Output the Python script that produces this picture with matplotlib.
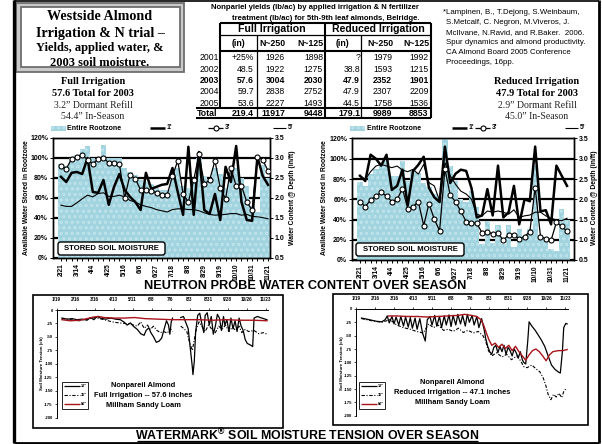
import numpy as np
import matplotlib
matplotlib.use('Agg')
import matplotlib.pyplot as plt
from matplotlib.patches import Rectangle, FancyBboxPatch

plt.rcParams['font.family'] = ['Liberation Sans', 'DejaVu Sans']
plt.rcParams['mathtext.fontset'] = 'custom'
plt.rcParams['mathtext.rm'] = 'Liberation Sans:bold'
plt.rcParams['mathtext.default'] = 'rm'
plt.rcParams['hatch.linewidth'] = 0.5
SANS = ['Liberation Sans', 'DejaVu Sans']
SERIF = ['Liberation Serif', 'DejaVu Serif']

# ---------------- yield table ----------------
table_years = ['2001', '2002', '2003', '2004', '2005']
full_in = ['+25%', '48.5', '57.6', '59.7', '53.6']
full_n250 = ['1926', '1922', '3004', '2838', '2227']
full_n125 = ['1898', '1275', '2030', '2752', '1493']
red_in = ['?', '38.8', '47.9', '47.9', '44.5']
red_n250 = ['1979', '1593', '2352', '2307', '1758']
red_n125 = ['1992', '1215', '1901', '2209', '1536']
table_totals = ['219.4', '11917', '9448', '179.1', '9989', '8853']

# ---------------- neutron probe (weekly, days after 2/21) ----------------
probe_days = [0, 7, 14, 21, 28, 35, 42, 49, 56, 63, 70, 77, 84, 91, 98, 105, 112, 119, 126, 133,
              140, 147, 154, 161, 168, 175, 182, 189, 196, 203, 210, 217, 224, 231, 238, 245, 252, 259, 266, 273]
probe_tick_days = [0, 21, 42, 63, 84, 105, 126, 147, 168, 189, 210, 231, 252, 273]
probe_tick_labels = ['2/21', '3/14', '4/4', '4/25', '5/16', '6/6', '6/27', '7/18', '8/8', '8/29',
                     '9/19', '10/10', '10/31', '11/21']
pct_ticks = [0, 20, 40, 60, 80, 100, 120]
pct_labels = ['0%', '20%', '40%', '60%', '80%', '100%', '120%']
inft_ticks = [0.5, 1.0, 1.5, 2.0, 2.5, 3.0, 3.5]
inft_labels = ['0.5', '1.0', '1.5', '2.0', '2.5', '3.0', '3.5']

# Full irrigation: % of available water in rootzone, water content (in/ft) at 1', 3', 5'
full_root = [94, 92, 100, 103, 109, 112, 100, 96, 113, 100, 100, 100, 90, 86, 83, 78, 76, 74, 70, 68,
             68, 88, 90, 72, 70, 80, 100, 82, 76, 90, 84, 70, 82, 90, 80, 72, 52, 46, 93, 80]
full_1ft = [2.53, 2.40, 2.63, 2.65, 2.60, 3.00, 2.15, 2.13, 2.45, 1.83, 2.28, 2.60, 2.20, 2.03, 1.90, 1.70,
            2.63, 2.23, 2.28, 2.33, 2.35, 2.75, 2.15, 1.58, 3.28, 1.58, 3.15, 1.70, 1.60, 2.10, 1.45, 2.78,
            2.40, 3.30, 1.90, 1.45, 1.43, 3.03, 2.55, 2.33]
full_3ft = [2.80, 2.73, 2.98, 3.03, 3.08, 2.95, 2.85, 2.98, 3.00, 2.88, 2.88, 2.85, 2.00, 2.58, 2.48, 2.20,
            2.20, 2.18, 2.13, 2.08, 2.08, 2.55, 2.93, 2.10, 1.90, 2.45, 3.10, 2.35, 2.45, 2.93, 2.25, 1.98,
            2.75, 2.30, 2.30, 1.90, 1.70, 3.03, 2.95, 2.68]
full_5ft = [1.82, 1.79, 1.79, 1.88, 1.98, 2.07, 2.03, 2.11, 2.13, 2.04, 2.04, 2.07, 2.03, 1.94, 1.90, 1.83,
            1.79, 1.76, 1.71, 1.68, 1.65, 1.71, 1.73, 1.73, 1.71, 1.71, 1.68, 1.63, 1.59, 1.57, 1.58, 1.59,
            1.61, 1.61, 1.57, 1.59, 1.54, 1.53, 1.51, 1.48]
# Reduced irrigation
red_root = [77, 73, 85, 90, 96, 99, 83, 83, 98, 78, 88, 86, 76, 72, 65, 62, 120, 93, 78, 60,
            57, 68, 52, 16, 39, 17, 35, 16, 35, 13, 31, 24, 31, 93, 21, 21, 11, 9, 50, 40]
red_1ft = [2.58, 2.45, 3.10, 3.00, 2.83, 3.10, 2.23, 2.33, 2.73, 1.85, 2.70, 2.85, 3.05, 2.28, 2.05, 1.93,
           3.30, 2.40, 2.63, 2.73, 2.70, 2.28, 1.55, 1.60, 2.25, 1.60, 2.83, 1.55, 1.68, 2.33, 1.38, 2.00,
           1.95, 3.30, 1.70, 1.73, 1.38, 2.83, 2.58, 2.33]
red_3ft = [1.94, 1.82, 1.98, 2.08, 2.17, 2.08, 1.94, 2.00, 2.26, 1.77, 1.82, 1.94, 1.35, 1.89, 1.51, 1.22,
           2.75, 2.10, 1.94, 1.70, 1.45, 1.41, 1.41, 1.17, 1.20, 1.14, 1.16, 0.99, 1.12, 1.12, 1.02, 1.08,
           1.20, 2.29, 1.08, 1.02, 0.99, 1.43, 1.33, 1.21]
red_5ft = [2.58, 2.49, 2.68, 2.82, 2.86, 2.82, 2.78, 2.82, 2.72, 2.68, 2.74, 2.62, 2.86, 2.41, 2.33, 1.96,
           2.90, 2.58, 2.37, 2.20, 2.13, 2.00, 1.63, 1.59, 1.71, 1.68, 1.71, 1.68, 1.63, 1.74, 1.55, 1.59,
           1.61, 1.68, 1.68, 1.59, 1.53, 1.49, 1.47, 1.53]

# ---------------- watermark tension (days after 1/19, cb) ----------------
wm_tick_days = [0, 28, 56, 84, 112, 140, 168, 196, 224, 252, 280, 308]
wm_tick_labels = ['1/19', '2/16', '3/16', '4/13', '5/11', '6/8', '7/6', '8/3', '8/31', '9/28', '10/26', '11/23']
wm_yticks = [0, -25, -50, -75, -100, -125, -150, -175, -200]
NAN = float('nan')

f18_d = [8, 16, 23, 30, 38, 45, 50, 55, 60, 65, 72, 80, 87, 94, 99, 104, 109, 114, 119, 124, 129, 132,
         136, 139, 143, 147, 151, 155, 158, 162, 165, 167, 169, 171, 177, 183, 187, 191, 194, 197, 200,
         201, 203, 205, 208, 211, 214, 217, 219, 222, 225, 228, 231, 234, 237, 240, 243, 246, 248, 251,
         254, 257, 260, 263, 266, 269, 272, 275, 278, 281, 284, 287, 289, 291, 296, 300, 305, 310]
f18_v = [-15, -17, -16, -18, -17, -19, -14, -18, -12, -15, -17, -15, -17, -18, -22, -28, -24, -31, -36,
         -44, -47, -38, -33, -42, -50, -60, -58, -52, -38, -20, -28, -45, -22, -15, NAN, -14, -12, -25,
         -35, -70, -105, -120, -95, -40, -10, -6, -25, -42, -10, -5, -28, -12, -45, -30, -8, -15, -38,
         -12, -28, -18, -40, -15, -35, -20, -40, -15, -30, -38, -55, -62, -64, -66, -68, -15, -12, -14,
         -16, -18]
f36_d = [8, 21, 33, 45, 57, 70, 82, 92, 102, 111, 119, 124, 129, 134, 138, 143, 148, 153, 158, 163, 168,
         171, 177, 183, 188, 192, 196, 200, 202, 206, 210, 215, 219, 224, 229, 234, 239, 244, 249, 254,
         259, 264, 269, 273, 278, 283, 291, 298, 305, 310]
f36_v = [-16, -18, -20, -17, -14, -18, -22, -24, -25, -27, -30, -22, -34, -28, -36, -30, -38, -42, -40,
         -43, -35, -40, NAN, -30, -35, -40, -60, -75, -62, -35, -22, -32, -40, -28, -36, -42, -30, -36,
         -28, -40, -32, -38, -30, -42, -36, -40, -38, -44, -42, -45]
f60_d = [8, 20, 35, 45, 55, 62, 70, 85, 100, 115, 130, 150, 170, 190, 210, 230, 250, 270, 290, 310]
f60_v = [-18, -20, -19, -16, -13, -12, -14, -15, -15, -14, -16, -17, -18, -18, -18, -19, -18, -19, -19, -20]

r18_d = [8, 16, 23, 30, 38, 43, 46, 49, 53, 56, 59, 63, 66, 70, 73, 77, 80, 83, 87, 90, 94, 98, 102,
         105, 109, 112, 116, 119, 123, 126, 130, 133, 137, 140, 143, 147, 150, 154, 157, 161, 164, 167,
         171, 174, 178, 181, 185, 189, 191, 194, 197, 200, 203, 206, 209, 212, 215, 218, 221, 224, 227,
         230, 233, 236, 239, 242, 245, 247, 250, 253, 255, 259, 264, 269, 273, 278, 283, 288, 293, 298,
         301, 304, 306, 309, 311]
r18_v = [-17, -19, -21, -23, -24, -20, -13, -26, -14, -28, -15, -30, -14, -32, -15, -34, -16, -36, -17,
         -38, -18, -45, -60, -20, -14, -30, -12, -32, -14, -35, -13, -30, -11, -33, -12, -30, -10, -28,
         -12, -32, -10, -25, -12, -30, -14, -35, -18, -40, -55, -70, -80, -85, -72, -68, -82, -70, -80,
         -68, -85, -72, -78, -88, -75, -82, -92, -80, -95, -100, -103, -60, -24, -32, -40, -50, -58,
         -70, -88, -105, -113, -118, -120, -80, -35, -27, -28]
r36_d = [8, 23, 38, 50, 60, 70, 80, 89, 99, 107, 114, 121, 129, 136, 143, 151, 158, 165, 173, 180, 187,
         191, 195, 200, 207, 215, 222, 229, 237, 243, 247, 252, 259, 265, 271, 276, 280, 283, 287, 291,
         295, 299, 303, 306, 310]
r36_v = [-18, -22, -25, -20, -30, -35, -38, -42, -45, -28, -35, -30, -40, -38, -42, -36, -44, -40, -45,
         -42, -50, -60, -78, -88, -82, -90, -85, -95, -88, -98, -108, -110, -105, -112, -118, -130, -145,
         -160, -170, -160, -165, -158, -166, -155, -148]
r60_d = [48, 60, 75, 90, 105, 120, 135, 150, 160, 170, 178, 184, 188, 192, 196, 200, 205, 210, 215, 220,
         225, 230, 235, 240, 245, 250, 255, 260, 265, 270, 275, 280, 285, 290, 298, 305, 311]
r60_v = [-13, -13, -14, -14, -15, -14, -13, -12, -10, -12, -14, -20, -30, -45, -58, -68, -64, -72, -66,
         -74, -68, -78, -70, -80, -88, -96, -86, -78, -75, -80, -88, -97, -86, -80, -78, -78, -76]

# ---------------- figure ----------------
W, H = 602, 444
fig = plt.figure(figsize=(W / 100, H / 100), dpi=100)
fig.patch.set_facecolor('white')
BAR_C = '#a1d4df'
DROP_C = '#bfe3eb'
RED = '#a8141c'


def px_axes(x0, y0, x1, y1, **kw):
    return fig.add_axes([x0 / W, 1 - y1 / H, (x1 - x0) / W, (y1 - y0) / H], **kw)


def neutron(rect, xlim, root, l1, l3, l5):
    ax = px_axes(*rect)
    ax.set_xlim(*xlim)
    ax.set_ylim(0, 120)
    ax.set_axisbelow(True)
    ax.set_yticks(pct_ticks)
    ax.set_yticklabels(pct_labels, fontsize=5, fontweight='bold')
    ax.yaxis.grid(True, color='black', linewidth=1.6)
    ax.bar(probe_days, root, width=7, color=BAR_C, edgecolor=DROP_C, linewidth=0, hatch='ooo', zorder=2)
    ax.set_xticks(probe_tick_days)
    ax.set_xticklabels(probe_tick_labels, rotation=90, fontsize=4.8, fontweight='bold')
    ax.set_xticks(probe_days, minor=True)
    ax.tick_params(axis='x', which='both', direction='out', length=2.5, width=0.7, pad=1.5)
    ax.tick_params(axis='y', direction='out', length=2.5, width=0.7, pad=1)
    for s in ax.spines.values():
        s.set_linewidth(1.0)
    ax2 = ax.twinx()
    ax2.set_ylim(0.5, 3.5)
    ax2.set_yticks(inft_ticks)
    ax2.set_yticklabels(inft_labels, fontsize=5, fontweight='bold')
    ax2.tick_params(axis='y', direction='out', length=2.5, width=0.7, pad=1)
    ax2.plot(probe_days, l5, color='black', lw=0.8, zorder=3)
    ax2.plot(probe_days, l1, color='black', lw=1.8, zorder=4)
    ax2.plot(probe_days, l3, color='black', lw=0.9, marker='o', ms=3.6, mfc='white', mec='black',
             mew=0.8, zorder=5)
    for s in ax2.spines.values():
        s.set_linewidth(1.0)
    return ax


def tension(rect, d18, v18, d36, v36, d60, v60):
    ax = px_axes(*rect)
    ax.patch.set_alpha(0)
    ax.set_xlim(0, 312)
    ax.set_ylim(-200, 0)
    ax.plot(d36, v36, color='black', lw=0.8, ls=(0, (3, 1.5, 1, 1.5)))
    ax.plot(d18, v18, color='black', lw=0.9)
    ax.plot(d60, v60, color=RED, lw=1.0)
    ax.spines['right'].set_visible(False)
    ax.spines['bottom'].set_visible(False)
    ax.spines['top'].set_linewidth(0.7)
    ax.spines['left'].set_linewidth(0.7)
    ax.xaxis.tick_top()
    ax.set_xticks(wm_tick_days)
    ax.set_xticklabels(wm_tick_labels, fontsize=3.3, fontweight='bold')
    ax.set_yticks(wm_yticks)
    ax.set_yticklabels([str(v) for v in wm_yticks], fontsize=3.1, fontweight='bold')
    ax.tick_params(axis='x', direction='out', length=1.5, width=0.5, pad=4)
    ax.tick_params(axis='y', direction='out', length=1.5, width=0.5, pad=1.2)
    return ax


neutron((53, 138, 270, 258), (-10.5, 275.6), full_root, full_1ft, full_3ft, full_5ft)
neutron((352, 138.5, 574, 260), (-10.5, 282.2), red_root, red_1ft, red_3ft, red_5ft)
tension((56.5, 310, 268.3, 417.7), f18_d, f18_v, f36_d, f36_v, f60_d, f60_v)
tension((356, 309, 567.8, 415.7), r18_d, r18_v, r36_d, r36_v, r60_d, r60_v)

# ---------------- overlay (texts, boxes, lines) ----------------
ov = fig.add_axes([0, 0, 1, 1], zorder=10)
ov.set_xlim(0, W)
ov.set_ylim(H, 0)
ov.axis('off')


def T(x, y, s, size, weight='normal', family=SANS, ha='center', va='center', **kw):
    ov.text(x, y, s, fontsize=size, fontweight=weight, family=family, ha=ha, va=va, **kw)


def L(xs, ys, lw=1.0, color='black', **kw):
    ov.plot(xs, ys, color=color, lw=lw, solid_capstyle='butt', **kw)


# page frame
L([13.5, 13.5], [0, 443], lw=2.4)
L([598.5, 598.5], [0, 443], lw=2.0)
L([13.5, 598.5], [442.5, 442.5], lw=2.0)
L([13.5, 598.5], [1.0, 1.0], lw=1.2)

# title box
ov.add_patch(Rectangle((16, 3), 168, 69, facecolor='#c9c9c9', edgecolor='#6e6e6e', lw=1.3))
ov.add_patch(Rectangle((20.5, 7), 159, 60.5, facecolor='white', edgecolor='#6e6e6e', lw=1.3))
T(100, 16.5, 'Westside Almond', 10.2, 'bold', SERIF)
T(100, 33, 'Irrigation & N trial \u2013', 10.2, 'bold', SERIF)
T(100, 48.5, 'Yields, applied water, &', 9.0, 'bold', SERIF)
T(100, 63, '2003 soil moisture.', 9.0, 'bold', SERIF)

# irrigation summaries
for cx, lines in [(93, ['Full Irrigation', '57.6 Total for 2003', '3.2\u201d Dormant Refill', '54.4\u201d In-Season']),
                  (537, ['Reduced Irrigation', '47.9 Total for 2003', '2.9\u201d Dormant Refill', '45.0\u201d In-Season'])]:
    T(cx, 82, lines[0], 7.5, 'bold', SERIF)
    T(cx, 93.5, lines[1], 7.5, 'bold', SERIF)
    T(cx, 105, lines[2], 7.0, 'normal', SERIF, color='#222222')
    T(cx, 116, lines[3], 7.0, 'normal', SERIF, color='#222222')

# reference
ref_lines = ['*Lampinen, B., T.Dejong, S.Weinbaum,', 'S.Metcalf, C. Negron, M.Viveros, J.',
             'McIlvane, N.Ravid, and R.Baker.  2006.', 'Spur dynamics and almond productivity.',
             'CA Almond Board 2005 Conference', 'Proceedings, 16pp.']
for i, s in enumerate(ref_lines):
    T(443 if i == 0 else 446, 13 + 9.8 * i, s, 5.7, ha='left')

# table
T(315, 7.5, 'Nonpariel yields (lb/ac) by applied irrigation & N fertilizer', 5.6, 'bold')
T(325.5, 19, 'treatment (lb/ac) for 5th-9th leaf almonds, Belridge.', 5.6, 'bold')
L([220, 431], [23.3, 23.3], lw=1.5)
L([220, 431], [35.2, 35.2], lw=0.9)
L([220, 431], [51, 51], lw=1.5)
L([196, 431], [108.3, 108.3], lw=1.5)
L([196, 431], [118.3, 118.3], lw=1.5)
L([220, 220], [23.3, 108.3], lw=1.5)
L([257, 257], [35.2, 118.3], lw=0.9)
L([324.5, 324.5], [23.3, 118.3], lw=1.5)
L([361, 361], [35.2, 118.3], lw=0.9)
L([431, 431], [23.3, 118.3], lw=1.5)
T(272, 29.5, 'Full Irrigation', 7.6, 'bold')
T(378, 29.5, 'Reduced Irrigation', 7.6, 'bold')
T(238.5, 43.5, '(in)', 6.3, 'bold')
T(343, 43.5, '(in)', 6.3, 'bold')
T(285, 43.5, 'N~250', 6.3, 'bold', ha='right')
T(323, 43.5, 'N~125', 6.3, 'bold', ha='right')
T(393, 43.5, 'N~250', 6.3, 'bold', ha='right')
T(429, 43.5, 'N~125', 6.3, 'bold', ha='right')
row_y = [58, 69, 80.5, 92, 103]
col_right = [254, 285, 323, 360, 392, 428.5]
cols = [full_in, full_n250, full_n125, red_in, red_n250, red_n125]
for r, yr in enumerate(table_years):
    wt = 'bold' if yr == '2003' else 'normal'
    T(219, row_y[r], yr, 6.2, wt, ha='right')
    for c, col in enumerate(cols):
        T(col_right[c], row_y[r], col[r], 6.2, wt, ha='right')
T(197, 113.5, 'Total', 6.3, 'bold', ha='left')
for c, v in enumerate(table_totals):
    T(col_right[c], 113.5, v, 6.3, 'bold', ha='right')

# neutron legends
for (px0, tx, l1x, l3x, l5x) in [(50.5, 67, 150, 208, 273), (350, 367, 452, 475, 565)]:
    ov.add_patch(Rectangle((px0, 125.5), 15, 5.5, facecolor=BAR_C, edgecolor=DROP_C, lw=0, hatch='ooo'))
    T(tx, 128.3, 'Entire Rootzone', 5.0, 'bold', ha='left')
    L([l1x, l1x + 15], [128.3, 128.3], lw=1.8)
    T(l1x + 16.5, 127.5, "1'", 5.0, 'bold', ha='left')
    L([l3x, l3x + 15], [128.3, 128.3], lw=0.9)
    ov.plot([l3x + 7.5], [128.3], marker='o', ms=3.6, mfc='white', mec='black', mew=0.8)
    T(l3x + 16.5, 127.5, "3'", 5.0, 'bold', ha='left')
    L([l5x, l5x + 13], [128.3, 128.3], lw=0.8)
    T(l5x + 14.5, 127.5, "5'", 5.0, 'bold', ha='left')

# neutron axis labels and tags
for x in (27, 325):
    T(x, 198, 'Available Water Stored in Rootzone', 4.9, 'bold', rotation=90)
for x in (293, 594):
    T(x, 198, 'Water Content @ Depth (in/ft)', 4.9, 'bold', rotation=90)
for (bx0, by0, bx1, by1) in [(58, 242, 165, 255), (356, 243, 464, 256)]:
    ov.add_patch(FancyBboxPatch((bx0, by0), bx1 - bx0, by1 - by0, boxstyle='round,pad=0,rounding_size=2.5',
                                facecolor='white', edgecolor='black', lw=1.0))
    T((bx0 + bx1) / 2, (by0 + by1) / 2, 'STORED SOIL MOISTURE', 5.6, 'bold')
T(305, 285.5, 'NEUTRON PROBE WATER CONTENT OVER SEASON', 9.2, 'bold')

# tension boxes, legends and texts
ov.add_patch(Rectangle((33, 295), 250, 133, facecolor='none', edgecolor='black', lw=1.2))
ov.add_patch(Rectangle((333, 294), 255, 131, facecolor='none', edgecolor='black', lw=1.2))
for (lx, tcx, ylx, txt, ty) in [(62, 143, 42.5, 'Full Irrigation -- 57.6 inches', 385),
                                (359, 452, 342.0, 'Reduced Irrigation -- 47.1 inches', 382)]:
    ov.add_patch(Rectangle((lx, 382), 26, 26.5, facecolor='white', edgecolor='black', lw=0.6))
    L([lx + 2, lx + 18], [385.5, 385.5], lw=0.9)
    L([lx + 2, lx + 18], [394.5, 394.5], lw=0.8, ls=(0, (3, 1.5, 1, 1.5)))
    L([lx + 2, lx + 18], [403.5, 403.5], lw=1.0, color=RED)
    for yy, s in [(385.5, '18"'), (394.5, '36"'), (403.5, '60"')]:
        T(lx + 19, yy, s, 2.8, 'bold', ha='left')
    T(tcx, ty, 'Nonpareil Almond', 5.4, 'bold')
    T(tcx, ty + 10, txt, 5.4, 'bold')
    T(tcx, ty + 20, 'Millham Sandy Loam', 5.4, 'bold')
    T(ylx, 363, 'Soil Moisture Tension (cb)', 3.2, 'bold', rotation=90)

T(307, 435.5, 'WATERMARK$^{\u00ae}$ SOIL MOISTURE TENSION OVER SEASON', 8.9, 'bold')
L([137, 478], [441.3, 441.3], lw=0.9)

fig.savefig('out.png', dpi=100, facecolor='white')
